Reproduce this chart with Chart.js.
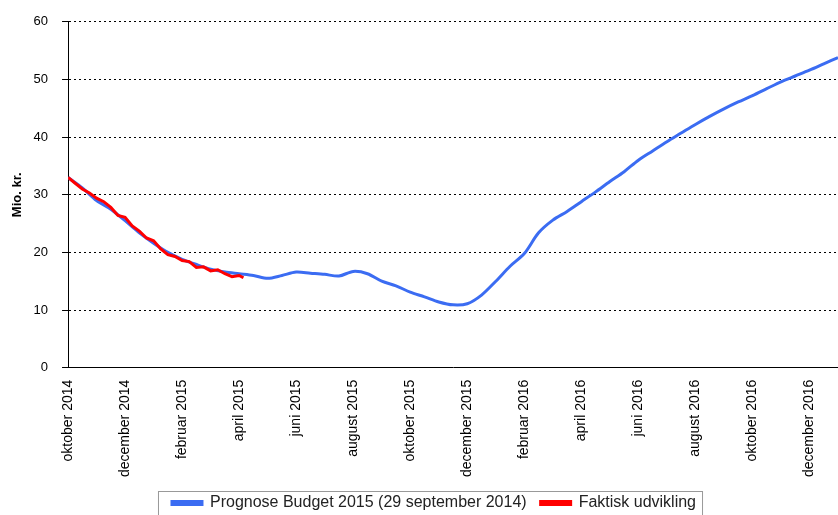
<!DOCTYPE html>
<html>
<head>
<meta charset="utf-8">
<script src="https://cdn.jsdelivr.net/npm/chart.js@4"></script>
<style>
  html, body { margin: 0; padding: 0; background: #fff; }
  #wrap { width: 838px; height: 515px; }
</style>
</head>
<body>
<div id="wrap"><canvas id="chart"></canvas></div>
<script>
// Months after oktober 2014 (x position) and budget forecast in Mio. kr.
const budgetMonths = [0, 0.5, 1, 1.5, 2, 2.5, 3, 3.5, 4, 4.5, 5, 5.5, 6, 6.5, 7, 7.5, 8, 8.5, 9, 9.5,
  10, 10.5, 11, 11.5, 12, 12.5, 13, 13.5, 14, 14.5, 15, 15.5, 16, 16.5, 17, 17.5, 18, 18.5, 19, 19.5,
  20, 20.5, 21, 21.5, 22, 22.5, 23, 23.5, 24, 24.5, 25, 25.5, 26, 26.5, 27];
const budgetValues = [33.0, 31.2, 29.0, 27.5, 25.5, 23.4, 21.6, 20.0, 18.8, 17.9, 17.1, 16.6, 16.3, 16.0, 15.5, 16.0, 16.6, 16.4, 16.2, 15.9,
  16.7, 16.3, 15.0, 14.2, 13.1, 12.3, 11.4, 10.9, 11.1, 12.6, 15.0, 17.6, 19.8, 23.4, 25.6, 27.1, 28.8, 30.5, 32.3, 34.0,
  36.0, 37.6, 39.2, 40.7, 42.2, 43.6, 44.9, 46.1, 47.2, 48.4, 49.6, 50.6, 51.6, 52.7, 53.8];

// Actual development, roughly weekly.
const actualMonths = [0, 0.25, 0.5, 0.75, 1, 1.25, 1.5, 1.75, 2, 2.25, 2.5, 2.75, 3, 3.25, 3.5, 3.75, 4, 4.25,
  4.5, 4.75, 5, 5.25, 5.5, 5.75, 6, 6.15];
const actualValues = [33.0, 32.0, 31.0, 30.3, 29.4, 28.8, 27.8, 26.4, 26.1, 24.6, 23.7, 22.5, 22.0, 20.6, 19.6, 19.3, 18.6, 18.4,
  17.4, 17.5, 16.8, 17.0, 16.3, 15.8, 16.0, 15.6];

const tickLabels = ['oktober 2014', 'december 2014', 'februar 2015', 'april 2015', 'juni 2015', 'august 2015',
  'oktober 2015', 'december 2015', 'februar 2016', 'april 2016', 'juni 2016', 'august 2016', 'oktober 2016', 'december 2016'];

const seriesNames = ['Prognose Budget 2015 (29 september 2014)', 'Faktisk udvikling'];

// Thin frame round the legend, like the original export.
const legendFrame = {
  id: 'legendFrame',
  afterDraw(chart) {
    const boxes = chart.legend.legendHitBoxes;
    if (!boxes || !boxes.length) return;
    const left = Math.min(...boxes.map((b) => b.left)) - 14;
    const right = Math.max(...boxes.map((b) => b.left + b.width)) + 6;
    const top = Math.min(...boxes.map((b) => b.top)) - 4;
    const { ctx } = chart;
    ctx.save();
    ctx.strokeStyle = '#999';
    ctx.lineWidth = 1;
    ctx.strokeRect(left + 0.5, top + 0.5, right - left, 40);
    ctx.restore();
  },
};

const ctx = document.getElementById('chart').getContext('2d');
new Chart(ctx, {
  type: 'line',
  data: {
    datasets: [
      {
        label: seriesNames[0],
        data: budgetMonths.map((m, i) => ({ x: m, y: budgetValues[i] })),
        borderColor: '#3b6cf2',
        backgroundColor: '#3b6cf2',
        borderWidth: 3,
        pointRadius: 0,
        tension: 0.3,
        order: 2,
      },
      {
        label: seriesNames[1],
        data: actualMonths.map((m, i) => ({ x: m, y: actualValues[i] })),
        borderColor: '#ff0000',
        backgroundColor: '#ff0000',
        borderWidth: 3,
        pointRadius: 0,
        tension: 0,
        order: 1,
      },
    ],
  },
  options: {
    responsive: true,
    maintainAspectRatio: false,
    animation: false,
    layout: { padding: { top: -6, left: 10, right: -20, bottom: -6 } },
    plugins: {
      legend: {
        position: 'bottom',
        labels: {
          color: '#222',
          font: { family: 'Liberation Sans', size: 16 },
          boxWidth: 30,
          boxHeight: 3,
          padding: 14,
          sort: (a, b) => a.datasetIndex - b.datasetIndex,
        },
      },
      tooltip: { enabled: false },
    },
    scales: {
      x: {
        type: 'linear',
        min: 0,
        max: 27,
        ticks: {
          stepSize: 2,
          autoSkip: false,
          includeBounds: false,
          maxRotation: 90,
          minRotation: 90,
          color: '#000',
          padding: 4,
          font: { family: 'Liberation Sans', size: 14 },
          callback: (v) => (Number.isInteger(v / 2) ? tickLabels[v / 2] : ''),
        },
        grid: { display: false },
        border: { display: true, color: '#000', dash: [2, 2], width: 1 },
      },
      y: {
        min: 0,
        max: 60,
        ticks: {
          stepSize: 10,
          color: '#000',
          padding: 14,
          font: { family: 'Liberation Sans', size: 13 },
        },
        grid: { color: '#000', lineWidth: 1, tickLength: 6, drawTicks: true },
        border: { display: true, color: '#000', dash: [2, 3], width: 1 },
        title: {
          display: true,
          text: 'Mio. kr.',
          color: '#000',
          padding: { top: 0, bottom: -6 },
          font: { family: 'Liberation Sans', size: 13, weight: 'bold' },
        },
      },
    },
  },
  plugins: [legendFrame],
});
</script>
</body>
</html>
